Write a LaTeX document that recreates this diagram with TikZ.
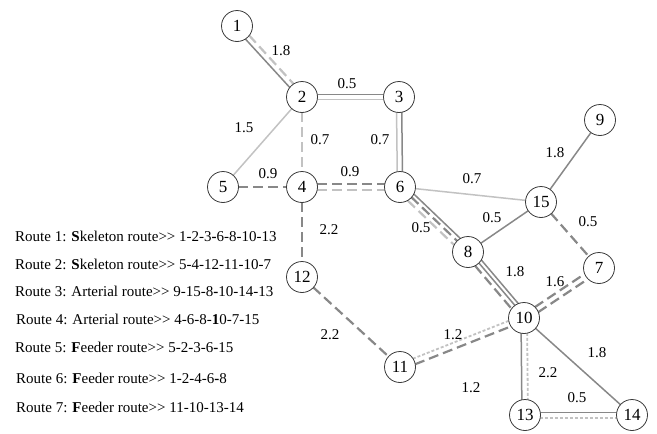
\documentclass[tikz,border=0pt]{standalone}
\usepackage{fontspec}
\setmainfont{Liberation Serif}
\usetikzlibrary{calc,backgrounds}
\definecolor{dk}{HTML}{888888}
\definecolor{lt}{HTML}{C2C2C2}
\definecolor{rim}{HTML}{3A3A3A}
\tikzset{
 stn/.style={circle,draw=rim,line width=0.8pt,fill=white,minimum size=31pt,inner sep=0pt,font=\fontsize{17}{17}\selectfont},
 lab/.style={font=\fontsize{15}{15}\selectfont,inner sep=0pt},
 rt/.style={font=\fontsize{15}{15}\selectfont,anchor=west,inner sep=0pt},
 dks/.style={draw=dk,line width=1.5pt},
 lts/.style={draw=lt,line width=1.5pt},
 dkd/.style={draw=dk,line width=2.2pt,dash pattern=on 10pt off 5pt},
 ltd/.style={draw=lt,line width=2.2pt,dash pattern=on 10pt off 5pt},
 ltdot/.style={draw=lt,line width=1.8pt,dash pattern=on 3pt off 2pt},
}
\newcommand\pl[4]{\draw[#4] ($(#1.center)!#3!90:(#2.center)$) -- ($(#2.center)!#3!-90:(#1.center)$);}
\begin{document}
\begin{tikzpicture}[x=1pt,y=-1pt]
\useasboundingbox (0,0) rectangle (657,434);
% stations
\node[stn] (n1) at (237,26) {1};
\node[stn] (n2) at (302,97) {2};
\node[stn] (n3) at (399,97) {3};
\node[stn] (n4) at (302,187) {4};
\node[stn] (n5) at (223,187) {5};
\node[stn] (n6) at (400,187) {6};
\node[stn] (n9) at (600,120) {9};
\node[stn] (n15) at (541,202) {15};
\node[stn] (n8) at (468,252) {8};
\node[stn] (n7) at (599,268) {7};
\node[stn] (n12) at (302,277) {12};
\node[stn] (n10) at (524,318) {10};
\node[stn] (n11) at (400,367) {11};
\node[stn] (n13) at (525,415) {13};
\node[stn] (n14) at (632,415) {14};
% connectors
\begin{pgfonlayer}{background}
\pl{n1}{n2}{2.6pt}{ltd}
\pl{n1}{n2}{-2.6pt}{dks}
\pl{n2}{n3}{2.6pt}{dks}
\pl{n2}{n3}{-2.6pt}{lts}
\pl{n3}{n6}{2.6pt}{dks}
\pl{n3}{n6}{-2.6pt}{lts}
\pl{n2}{n5}{0pt}{lts}
\pl{n2}{n4}{0pt}{ltd}
\pl{n5}{n4}{0pt}{dkd}
\pl{n4}{n6}{2.8pt}{dkd}
\pl{n4}{n6}{-2.8pt}{ltd}
\pl{n6}{n15}{0pt}{lts}
\pl{n6}{n8}{4.5pt}{dks}
\pl{n6}{n8}{0.5pt}{dkd}
\pl{n6}{n8}{-4.5pt}{ltd}
\pl{n8}{n10}{5pt}{dks}
\pl{n8}{n10}{1.2pt}{dks}
\pl{n8}{n10}{-3.5pt}{dkd}
\pl{n8}{n15}{0pt}{dks}
\pl{n9}{n15}{0pt}{dks}
\pl{n15}{n7}{0pt}{dkd}
\pl{n10}{n7}{3pt}{dkd}
\pl{n10}{n7}{-3pt}{dkd}
\pl{n4}{n12}{0pt}{dkd}
\pl{n12}{n11}{0pt}{dkd}
\pl{n11}{n10}{3pt}{ltdot}
\pl{n11}{n10}{-3pt}{dkd}
\pl{n10}{n13}{3pt}{ltdot}
\pl{n10}{n13}{-3pt}{dks}
\pl{n10}{n14}{0pt}{dks}
\pl{n13}{n14}{2.5pt}{dks}
\pl{n13}{n14}{-3pt}{ltdot}
\end{pgfonlayer}
% distance labels
\node[lab] (d12) at (281,51) {1.8};
\node[lab] (d23) at (347,84) {0.5};
\node[lab] (d25) at (244,128) {1.5};
\node[lab] (d24) at (320,140) {0.7};
\node[lab] (d36) at (380,140) {0.7};
\node[lab] (d54) at (268,174) {0.9};
\node[lab] (d46) at (350,172) {0.9};
\node[lab] (d615) at (472,179) {0.7};
\node[lab] (d915) at (555,153) {1.8};
\node[lab] (d815) at (492,218) {0.5};
\node[lab] (d68) at (421,228) {0.5};
\node[lab] (d157) at (588,222) {0.5};
\node[lab] (d810) at (515,272) {1.8};
\node[lab] (d107) at (555,282) {1.6};
\node[lab] (d412) at (329,230) {2.2};
\node[lab] (d1211) at (330,335) {2.2};
\node[lab] (d1110a) at (453,335) {1.2};
\node[lab] (d1110b) at (471,388) {1.2};
\node[lab] (d1013) at (548,373) {2.2};
\node[lab] (d1014) at (597,353) {1.8};
\node[lab] (d1314) at (577,398) {0.5};
% route legend
\node[rt] (r1) at (15,236) {Route 1: \textbf{S}keleton route>{}> 1-2-3\textbf{-}6-8-10-13};
\node[rt] (r2) at (15,264) {Route 2: \textbf{S}keleton route>{}> 5-4-12-11-10-7};
\node[rt] (r3) at (15,291) {Route 3: Arterial route>{}> 9-15-8\textbf{-}10-14-13};
\node[rt] (r4) at (16,319) {Route 4: Arterial route>{}> 4-6-8-\textbf{1}0-7-15};
\node[rt] (r5) at (15,347) {Route 5: \textbf{F}eeder route>{}> 5-2-3-6\textbf{-}15};
\node[rt] (r6) at (16,378) {Route 6: \textbf{F}eeder route>{}> 1-2-4-6\textbf{-}8};
\node[rt] (r7) at (16,407) {Route 7: \textbf{F}eeder route>{}> 11-10-13-14};
\end{tikzpicture}
\end{document}
